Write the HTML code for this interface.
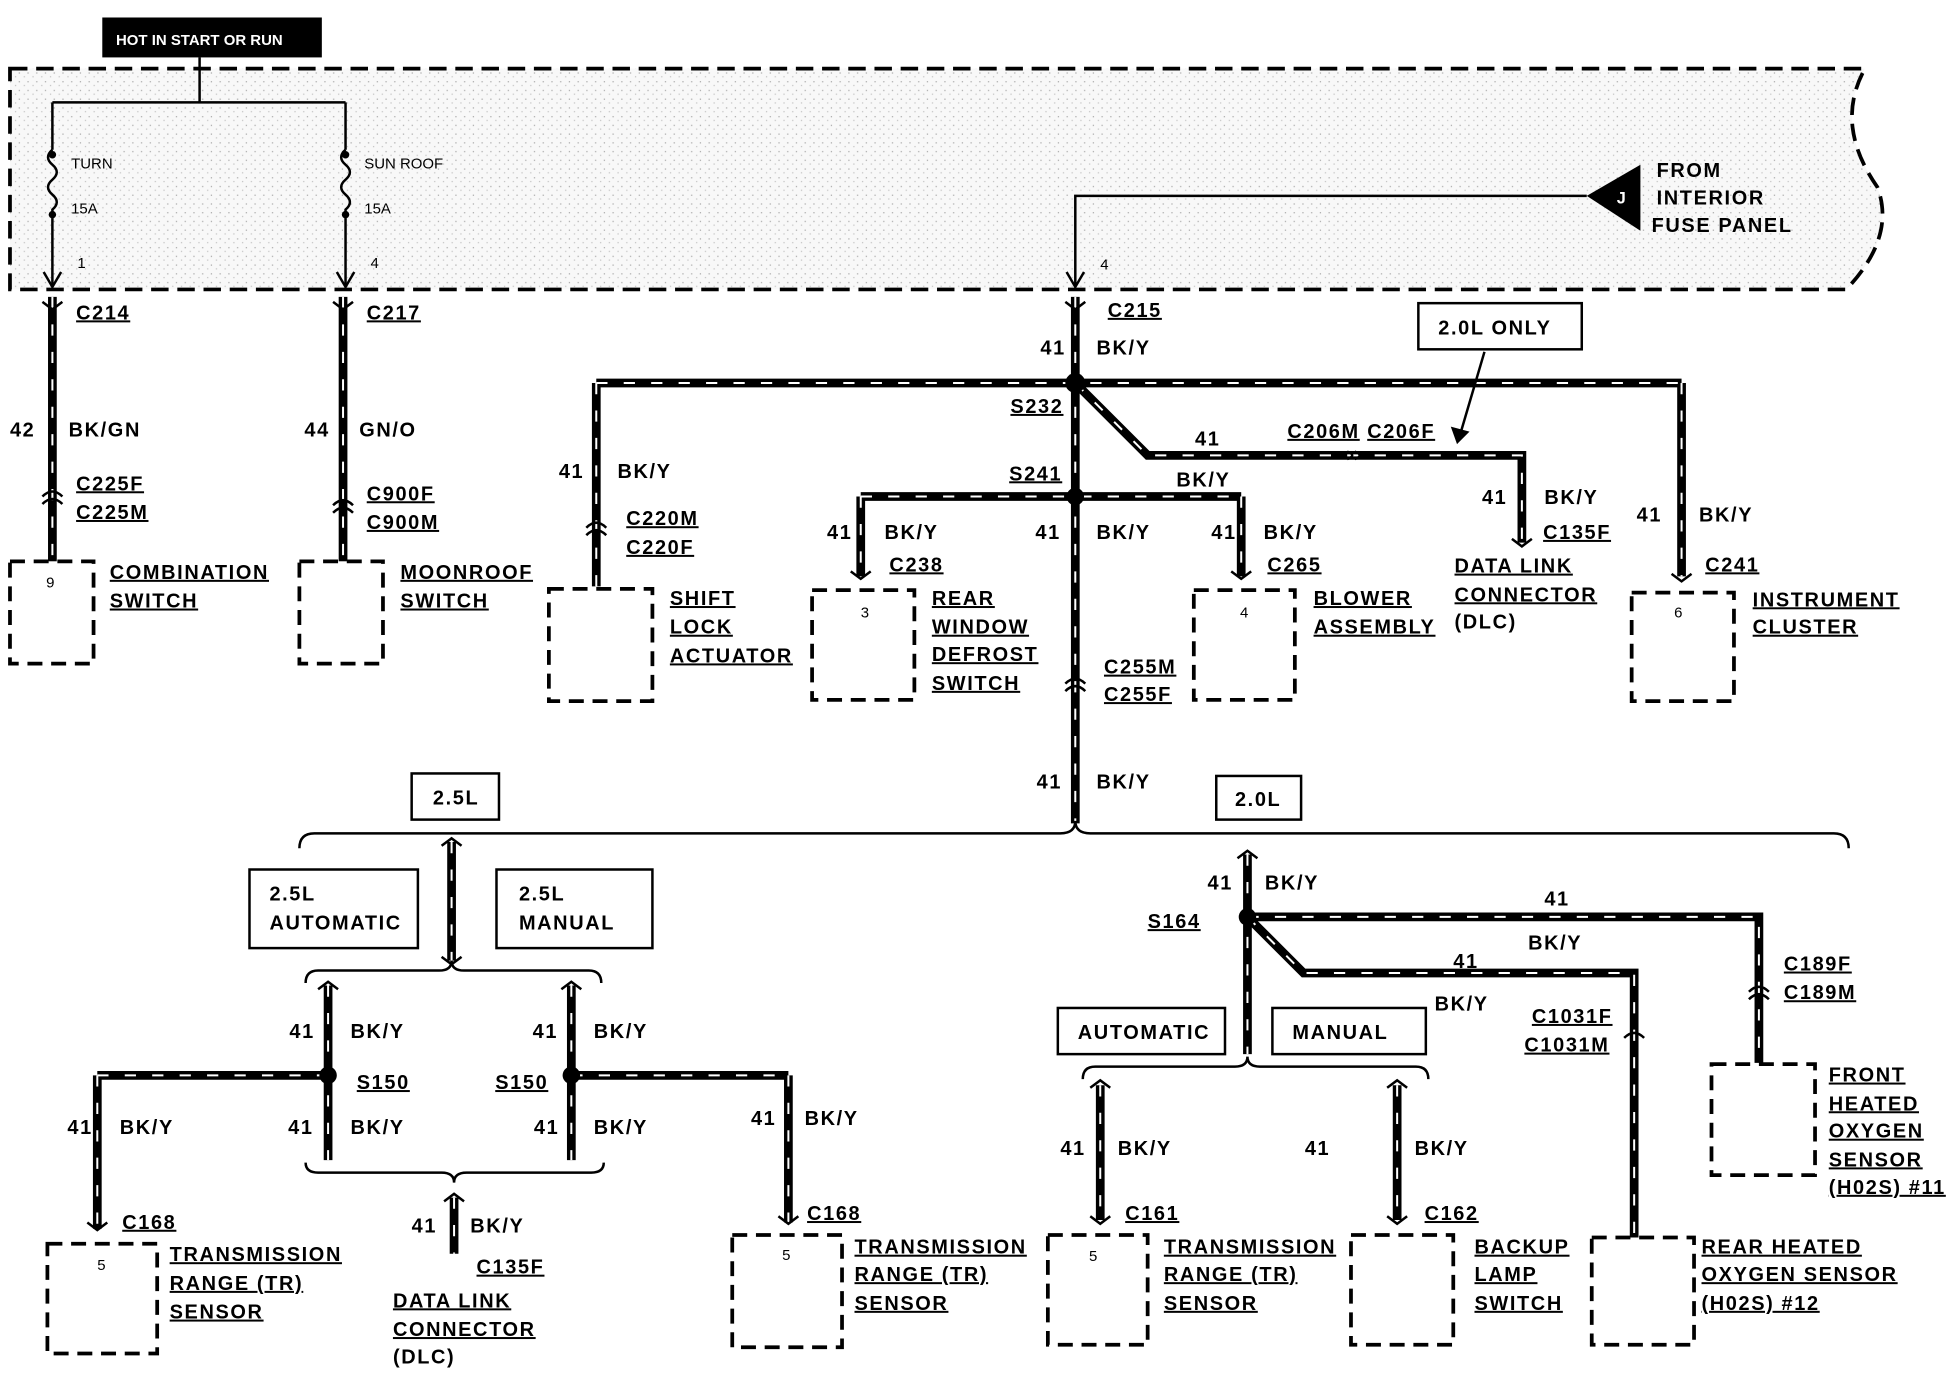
<!DOCTYPE html>
<html><head><meta charset="utf-8"><style>
html,body{margin:0;padding:0;background:#fff}
svg{display:block}
text{font-family:"Liberation Sans",sans-serif;font-weight:bold;font-size:16px;fill:#000;letter-spacing:1.3px}
.u{text-decoration:underline}
.s{font-size:12px;font-weight:normal;letter-spacing:0}
.w{stroke:#000;stroke-width:7;fill:none}
.d{stroke:#fff;stroke-width:1.6;stroke-dasharray:9 13;fill:none}
.t{stroke:#000;stroke-width:2;fill:none}
.bx{stroke:#000;stroke-width:3;fill:#fff;stroke-dasharray:12 7}
.b{stroke:#000;stroke-width:2;fill:#fff}
</style></head><body>
<svg width="1956" height="1376" viewBox="0 0 1568 1103" xmlns="http://www.w3.org/2000/svg">
<defs>
<pattern id="st" width="7" height="7" patternUnits="userSpaceOnUse"><rect width="7" height="7" fill="#f8f8f8"/><rect x="1" y="2" width="1" height="1" fill="#aaa"/><rect x="5" y="5" width="1" height="1" fill="#c4c4c4"/></pattern>
</defs>
<path d="M8,55 H1495 Q1470,100 1505,150 Q1520,190 1480,232 H8 Z" fill="url(#st)" stroke="#000" stroke-width="3" stroke-dasharray="14 7"/>
<rect x="82" y="14" width="176" height="32" fill="#000"/>
<text x="93" y="36" style="fill:#fff;font-size:12px;letter-spacing:0">HOT IN START OR RUN</text>
<path class="t" d="M160,46 V82 M42,82 H277 M42,82 V120 M277,82 V120 M42,175 V228 M277,175 V228"/>
<path class="t" d="M42,120 q-7,6 0,12 q7,6 0,12 q-7,6 0,12 q7,6 0,12 V175 M277,120 q-7,6 0,12 q7,6 0,12 q-7,6 0,12 q7,6 0,12 V175"/>
<circle cx="42" cy="124" r="3"/><circle cx="42" cy="172" r="3"/><circle cx="277" cy="124" r="3"/><circle cx="277" cy="172" r="3"/>
<path d="M35,218 L42,230 L49,218" class="t"/><path d="M270,218 L277,230 L284,218" class="t"/><path d="M855,218 L862,230 L869,218" class="t"/>
<text x="57" y="135" class="s">TURN</text><text x="57" y="171" class="s">15A</text><text x="62" y="215" class="s">1</text>
<text x="292" y="135" class="s">SUN ROOF</text><text x="292" y="171" class="s">15A</text><text x="297" y="215" class="s">4</text>
<path class="t" d="M1272,157 H862 V228"/>
<polygon points="1272,157 1315,132 1315,185" fill="#000"/>
<text x="1296" y="163" style="fill:#fff;font-size:13px;letter-spacing:0">J</text>
<text x="1328" y="142">FROM</text><text x="1328" y="164">INTERIOR</text><text x="1324" y="186">FUSE PANEL</text>
<text x="882" y="216" class="s">4</text>

<g class="w">
<path d="M42,238 V450 M275,238 V450 M862,238 V660 M478,307 H1348 M478,307 V470 M1348,307 V462 M862,307 L920,365 H1220 V435 M690,398 H995 M690,398 V462 M995,398 V462
M362,675 V770 M263,790 V930 M458,790 V930 M78,862 H263 M458,862 H632 M78,862 V985 M632,862 V980 M364,960 V1005
M1000,685 V845 M1000,735 H1410 V852 M1000,735 L1045,780 H1310 V992 M882,870 V978 M1120,870 V978"/>
</g>
<g class="d">
<path d="M42,238 V450 M275,238 V450 M862,238 V660 M478,307 H1348 M478,307 V470 M1348,307 V462 M862,307 L920,365 H1220 V435 M690,398 H995 M690,398 V462 M995,398 V462
M362,675 V770 M263,790 V930 M458,790 V930 M78,862 H263 M458,862 H632 M78,862 V985 M632,862 V980 M364,960 V1005
M1000,685 V845 M1000,735 H1410 V852 M1000,735 L1045,780 H1310 V992 M882,870 V978 M1120,870 V978"/>
</g>
<g fill="#000">
<circle cx="862" cy="307" r="8"/><circle cx="862" cy="398" r="7"/><circle cx="263" cy="862" r="7"/><circle cx="458" cy="862" r="7"/><circle cx="1000" cy="735" r="7"/>
</g>
<g class="t" stroke-width="3">
<path d="M34,398 q8,-8 16,0 M34,404 q8,-8 16,0 M267,405 q8,-8 16,0 M267,411 q8,-8 16,0 M470,423 q8,-8 16,0 M470,429 q8,-8 16,0 M854,548 q8,-8 16,0 M854,554 q8,-8 16,0 M1080,362 q8,3 0,6 M1086,362 q8,3 0,6 M1402,795 q8,-8 16,0 M1402,801 q8,-8 16,0 M1302,832 q8,-8 16,0"/>
<path d="M34,242 l8,6 l8,-6 M267,242 l8,6 l8,-6 M854,242 l8,6 l8,-6 M682,458 l8,6 l8,-6 M987,458 l8,6 l8,-6 M1212,432 l8,6 l8,-6 M1340,460 l8,6 l8,-6 M70,980 l8,6 l8,-6 M624,975 l8,6 l8,-6 M874,975 l8,6 l8,-6 M1112,975 l8,6 l8,-6 M874,872 l8,-6 l8,6 M1112,872 l8,-6 l8,6 M255,793 l8,-6 l8,6 M450,793 l8,-6 l8,6 M992,688 l8,-6 l8,6 M354,678 l8,-6 l8,6 M354,767 l8,6 l8,-6 M356,963 l8,-6 l8,6"/>
</g>
<path class="t" stroke-width="2.5" d="M240,680 q0,-12 12,-12 H850 q12,0 12,-10 q0,10 12,10 H1470 q12,0 12,12"/>
<path class="t" stroke-width="2.5" d="M245,788 q0,-10 10,-10 H352 q10,0 10,-8 q0,8 10,8 H472 q10,0 10,10"/>
<path class="t" stroke-width="2.5" d="M245,932 q0,8 10,8 H354 q10,0 10,8 q0,-8 10,-8 H474 q10,0 10,-8"/>
<path class="t" stroke-width="2.5" d="M868,865 q0,-10 10,-10 H990 q10,0 10,-8 q0,8 10,8 H1135 q10,0 10,10"/>
<rect class="bx" x="8" y="450" width="67" height="82"/><text x="37" y="471" class="s">9</text>
<rect class="bx" x="240" y="450" width="67" height="82"/>
<rect class="bx" x="440" y="472" width="83" height="90"/>
<rect class="bx" x="651" y="473" width="82" height="88"/><text x="690" y="495" class="s">3</text>
<rect class="bx" x="957" y="473" width="81" height="88"/><text x="994" y="495" class="s">4</text>
<rect class="bx" x="1308" y="475" width="82" height="87"/><text x="1342" y="495" class="s">6</text>
<rect class="bx" x="38" y="997" width="88" height="88"/><text x="78" y="1018" class="s">5</text>
<rect class="bx" x="587" y="990" width="88" height="90"/><text x="627" y="1010" class="s">5</text>
<rect class="bx" x="840" y="990" width="80" height="88"/><text x="873" y="1011" class="s">5</text>
<rect class="bx" x="1083" y="990" width="82" height="88"/>
<rect class="bx" x="1276" y="992" width="82" height="86"/>
<rect class="bx" x="1372" y="853" width="83" height="89"/>
<rect class="b" x="1137" y="243" width="131" height="37"/><text x="1153" y="268">2.0L ONLY</text>
<path class="t" d="M1190,282 L1170,350"/><path d="M1163,342 L1168,356 L1178,346 Z"/>
<rect class="b" x="330" y="620" width="70" height="37"/><text x="347" y="645">2.5L</text>
<rect class="b" x="975" y="622" width="68" height="35"/><text x="990" y="646">2.0L</text>
<rect class="b" x="200" y="697" width="135" height="63"/><text x="216" y="722">2.5L</text><text x="216" y="745">AUTOMATIC</text>
<rect class="b" x="398" y="697" width="125" height="63"/><text x="416" y="722">2.5L</text><text x="416" y="745">MANUAL</text>
<rect class="b" x="848" y="808" width="134" height="37"/><text x="864" y="833">AUTOMATIC</text>
<rect class="b" x="1020" y="808" width="123" height="37"/><text x="1036" y="833">MANUAL</text>
<text x="61" y="256" class="u">C214</text><text x="294" y="256" class="u">C217</text><text x="888" y="254" class="u">C215</text>
<text x="8" y="350">42</text><text x="55" y="350">BK/GN</text><text x="244" y="350">44</text><text x="288" y="350">GN/O</text>
<text x="61" y="393" class="u">C225F</text><text x="61" y="416" class="u">C225M</text>
<text x="294" y="401" class="u">C900F</text><text x="294" y="424" class="u">C900M</text>
<text x="88" y="464" class="u">COMBINATION</text><text x="88" y="487" class="u">SWITCH</text>
<text x="321" y="464" class="u">MOONROOF</text><text x="321" y="487" class="u">SWITCH</text>
<text x="834" y="284">41</text><text x="879" y="284">BK/Y</text>
<text x="810" y="331" class="u">S232</text><text x="809" y="385" class="u">S241</text>
<text x="448" y="383">41</text><text x="495" y="383">BK/Y</text>
<text x="502" y="421" class="u">C220M</text><text x="502" y="444" class="u">C220F</text>
<text x="537" y="485" class="u">SHIFT</text><text x="537" y="508" class="u">LOCK</text><text x="537" y="531" class="u">ACTUATOR</text>
<text x="663" y="432">41</text><text x="709" y="432">BK/Y</text><text x="713" y="458" class="u">C238</text>
<text x="747" y="485" class="u">REAR</text><text x="747" y="508" class="u">WINDOW</text><text x="747" y="530" class="u">DEFROST</text><text x="747" y="553" class="u">SWITCH</text>
<text x="830" y="432">41</text><text x="879" y="432">BK/Y</text>
<text x="971" y="432">41</text><text x="1013" y="432">BK/Y</text><text x="1016" y="458" class="u">C265</text>
<text x="1053" y="485" class="u">BLOWER</text><text x="1053" y="508" class="u">ASSEMBLY</text>
<text x="958" y="357">41</text><text x="943" y="390">BK/Y</text>
<text x="1032" y="351" class="u">C206M</text><text x="1096" y="351" class="u">C206F</text>
<text x="1188" y="404">41</text><text x="1238" y="404">BK/Y</text><text x="1237" y="432" class="u">C135F</text>
<text x="1166" y="459" class="u">DATA LINK</text><text x="1166" y="482" class="u">CONNECTOR</text><text x="1166" y="504">(DLC)</text>
<text x="1312" y="418">41</text><text x="1362" y="418">BK/Y</text><text x="1367" y="458" class="u">C241</text>
<text x="1405" y="486" class="u">INSTRUMENT</text><text x="1405" y="508" class="u">CLUSTER</text>
<text x="885" y="540" class="u">C255M</text><text x="885" y="562" class="u">C255F</text>
<text x="831" y="632">41</text><text x="879" y="632">BK/Y</text>
<text x="232" y="832">41</text><text x="281" y="832">BK/Y</text><text x="427" y="832">41</text><text x="476" y="832">BK/Y</text>
<text x="286" y="873" class="u">S150</text><text x="397" y="873" class="u">S150</text>
<text x="54" y="909">41</text><text x="96" y="909">BK/Y</text>
<text x="231" y="909">41</text><text x="281" y="909">BK/Y</text><text x="428" y="909">41</text><text x="476" y="909">BK/Y</text>
<text x="602" y="902">41</text><text x="645" y="902">BK/Y</text>
<text x="98" y="985" class="u">C168</text><text x="647" y="978" class="u">C168</text>
<text x="136" y="1011" class="u">TRANSMISSION</text><text x="136" y="1034" class="u">RANGE (TR)</text><text x="136" y="1057" class="u">SENSOR</text>
<text x="685" y="1005" class="u">TRANSMISSION</text><text x="685" y="1027" class="u">RANGE (TR)</text><text x="685" y="1050" class="u">SENSOR</text>
<text x="330" y="988">41</text><text x="377" y="988">BK/Y</text><text x="382" y="1021" class="u">C135F</text>
<text x="315" y="1048" class="u">DATA LINK</text><text x="315" y="1071" class="u">CONNECTOR</text><text x="315" y="1093">(DLC)</text>
<text x="968" y="713">41</text><text x="1014" y="713">BK/Y</text><text x="920" y="744" class="u">S164</text>
<text x="1238" y="726">41</text><text x="1225" y="761">BK/Y</text>
<text x="1165" y="776">41</text><text x="1150" y="810">BK/Y</text>
<text x="1430" y="778" class="u">C189F</text><text x="1430" y="801" class="u">C189M</text>
<text x="1228" y="820" class="u">C1031F</text><text x="1222" y="843" class="u">C1031M</text>
<text x="1466" y="867" class="u">FRONT</text><text x="1466" y="890" class="u">HEATED</text><text x="1466" y="912" class="u">OXYGEN</text><text x="1466" y="935" class="u">SENSOR</text><text x="1466" y="957" class="u">(H02S) #11</text>
<text x="850" y="926">41</text><text x="896" y="926">BK/Y</text><text x="1046" y="926">41</text><text x="1134" y="926">BK/Y</text>
<text x="902" y="978" class="u">C161</text><text x="1142" y="978" class="u">C162</text>
<text x="933" y="1005" class="u">TRANSMISSION</text><text x="933" y="1027" class="u">RANGE (TR)</text><text x="933" y="1050" class="u">SENSOR</text>
<text x="1182" y="1005" class="u">BACKUP</text><text x="1182" y="1027" class="u">LAMP</text><text x="1182" y="1050" class="u">SWITCH</text>
<text x="1364" y="1005" class="u">REAR HEATED</text><text x="1364" y="1027" class="u">OXYGEN SENSOR</text><text x="1364" y="1050" class="u">(H02S) #12</text>
</svg>
</body></html>
